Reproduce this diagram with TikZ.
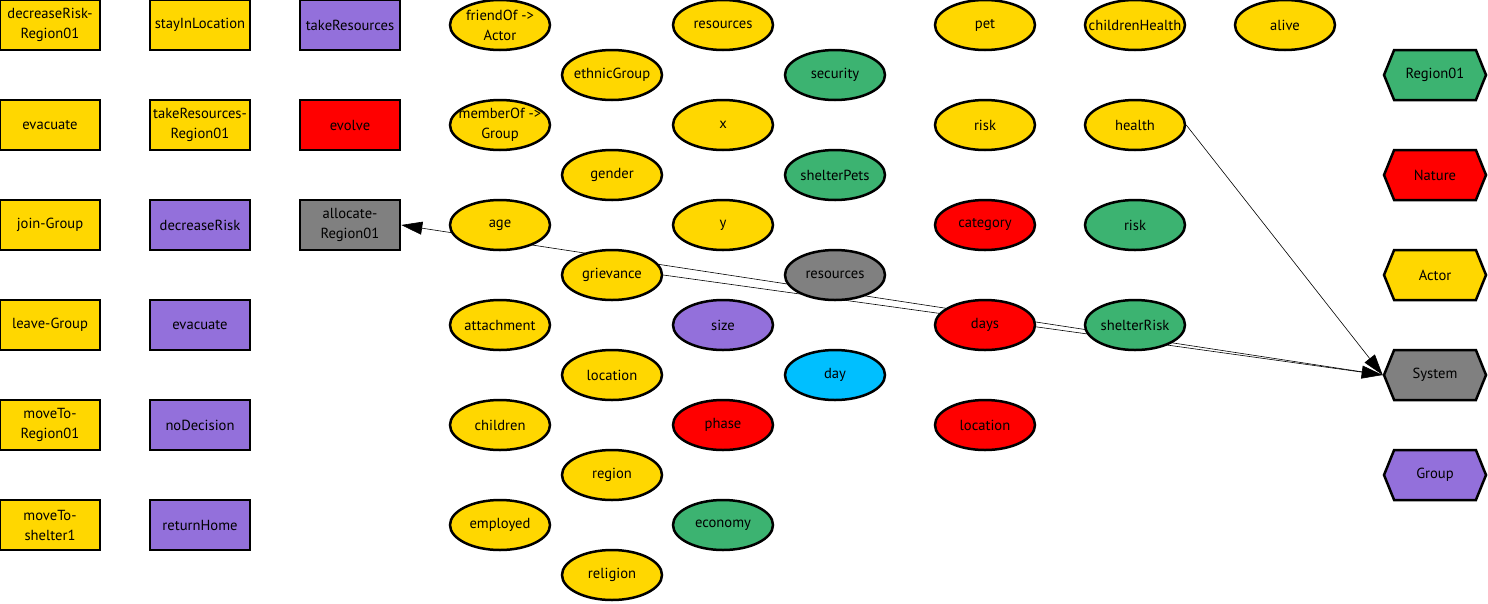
\documentclass[tikz,border=0pt]{standalone}
\usepackage{fontspec}
\setmainfont{PT Sans}
\usetikzlibrary{shapes.geometric, shapes.symbols, arrows.meta, backgrounds}

\definecolor{gvgold}{HTML}{FFD700}
\definecolor{gvpurple}{HTML}{9370DB}
\definecolor{gvred}{HTML}{FF0000}
\definecolor{gvgray}{HTML}{808080}
\definecolor{gvgreen}{HTML}{3CB371}
\definecolor{gvblue}{HTML}{00BFFF}

\begin{document}
\begin{tikzpicture}[x=1pt, y=-1pt, font=\fontsize{14.6}{20}\selectfont,
    base/.style={draw, line width=2.5pt, inner sep=0pt, minimum width=100pt,
                 minimum height=50pt, align=center},
    act/.style={base, rectangle},
    attr/.style={base, ellipse, inner xsep=-25pt},
    kind/.style={base, signal, signal to=west and east, signal pointer angle=136,
                 minimum width=102pt},
    link/.style={-{Triangle[length=21pt, width=13pt]}, line width=0.6pt}]
  \useasboundingbox (0,0) rectangle (1488,603);

  % actions
  \node[act, fill=gvgold] (decRiskReg) at (50,25) {decreaseRisk-\\Region01};
  \node[act, fill=gvgold] (evacA) at (50,125) {evacuate};
  \node[act, fill=gvgold] (joinGroup) at (50,225) {join-Group};
  \node[act, fill=gvgold] (leaveGroup) at (50,325) {leave-Group};
  \node[act, fill=gvgold] (moveReg) at (50,425) {moveTo-\\Region01};
  \node[act, fill=gvgold] (moveShelter) at (50,525) {moveTo-\\shelter1};
  \node[act, fill=gvgold] (stay) at (200,25) {stayInLocation};
  \node[act, fill=gvgold] (takeResReg) at (200,125) {takeResources-\\Region01};
  \node[act, fill=gvpurple] (decRisk) at (200,225) {decreaseRisk};
  \node[act, fill=gvpurple] (evacG) at (200,325) {evacuate};
  \node[act, fill=gvpurple] (noDec) at (200,425) {noDecision};
  \node[act, fill=gvpurple] (retHome) at (200,525) {returnHome};
  \node[act, fill=gvpurple] (takeRes) at (350,25) {takeResources};
  \node[act, fill=gvred] (evolve) at (350,125) {evolve};
  \node[act, fill=gvgray] (allocate) at (350,225) {allocate-\\Region01};

  % attributes
  \node[attr, fill=gvgold] (friendOf) at (500,25) {friendOf ->\\Actor};
  \node[attr, fill=gvgold] (memberOf) at (500,125) {memberOf ->\\Group};
  \node[attr, fill=gvgold] (age) at (500,225) {age};
  \node[attr, fill=gvgold] (attachment) at (500,325) {attachment};
  \node[attr, fill=gvgold] (children) at (500,425) {children};
  \node[attr, fill=gvgold] (employed) at (500,525) {employed};
  \node[attr, fill=gvgold] (ethnic) at (612,75) {ethnicGroup};
  \node[attr, fill=gvgold] (gender) at (612,175) {gender};
  \node[attr, fill=gvgold] (grievance) at (612,275) {grievance};
  \node[attr, fill=gvgold] (locA) at (612,375) {location};
  \node[attr, fill=gvgold] (region) at (612,475) {region};
  \node[attr, fill=gvgold] (religion) at (612,575) {religion};
  \node[attr, fill=gvgold] (resA) at (723,25) {resources};
  \node[attr, fill=gvgold] (xpos) at (723,125) {x};
  \node[attr, fill=gvgold] (ypos) at (723,225) {y};
  \node[attr, fill=gvpurple] (size) at (723,325) {size};
  \node[attr, fill=gvred] (phase) at (723,425) {phase};
  \node[attr, fill=gvgreen] (economy) at (723,525) {economy};
  \node[attr, fill=gvgreen] (security) at (835,75) {security};
  \node[attr, fill=gvgreen] (shelterPets) at (835,175) {shelterPets};
  \node[attr, fill=gvgray] (resS) at (835,275) {resources};
  \node[attr, fill=gvblue] (day) at (835,375) {day};
  \node[attr, fill=gvgold] (pet) at (985,25) {pet};
  \node[attr, fill=gvgold] (riskA) at (985,125) {risk};
  \node[attr, fill=gvred] (category) at (985,225) {category};
  \node[attr, fill=gvred] (days) at (985,325) {days};
  \node[attr, fill=gvred] (locN) at (985,425) {location};
  \node[attr, fill=gvgold] (childHealth) at (1135,25) {childrenHealth};
  \node[attr, fill=gvgold] (health) at (1135,125) {health};
  \node[attr, fill=gvgreen] (riskR) at (1135,225) {risk};
  \node[attr, fill=gvgreen] (shelterRisk) at (1135,325) {shelterRisk};
  \node[attr, fill=gvgold] (alive) at (1285,25) {alive};

  % entity kinds
  \node[kind, fill=gvgreen] (Region) at (1435,75) {Region01};
  \node[kind, fill=gvred] (Nature) at (1435,175) {Nature};
  \node[kind, fill=gvgold] (Actor) at (1435,275) {Actor};
  \node[kind, fill=gvgray] (System) at (1435,375) {System};
  \node[kind, fill=gvpurple] (Group) at (1435,475) {Group};

  \begin{scope}[on background layer]
    \draw[link] (grievance.east) -- (System.west);
    \draw[link] (health.east) -- (System.west);
    \draw[link] (System.west) -- (allocate.east);
  \end{scope}
\end{tikzpicture}
\end{document}
